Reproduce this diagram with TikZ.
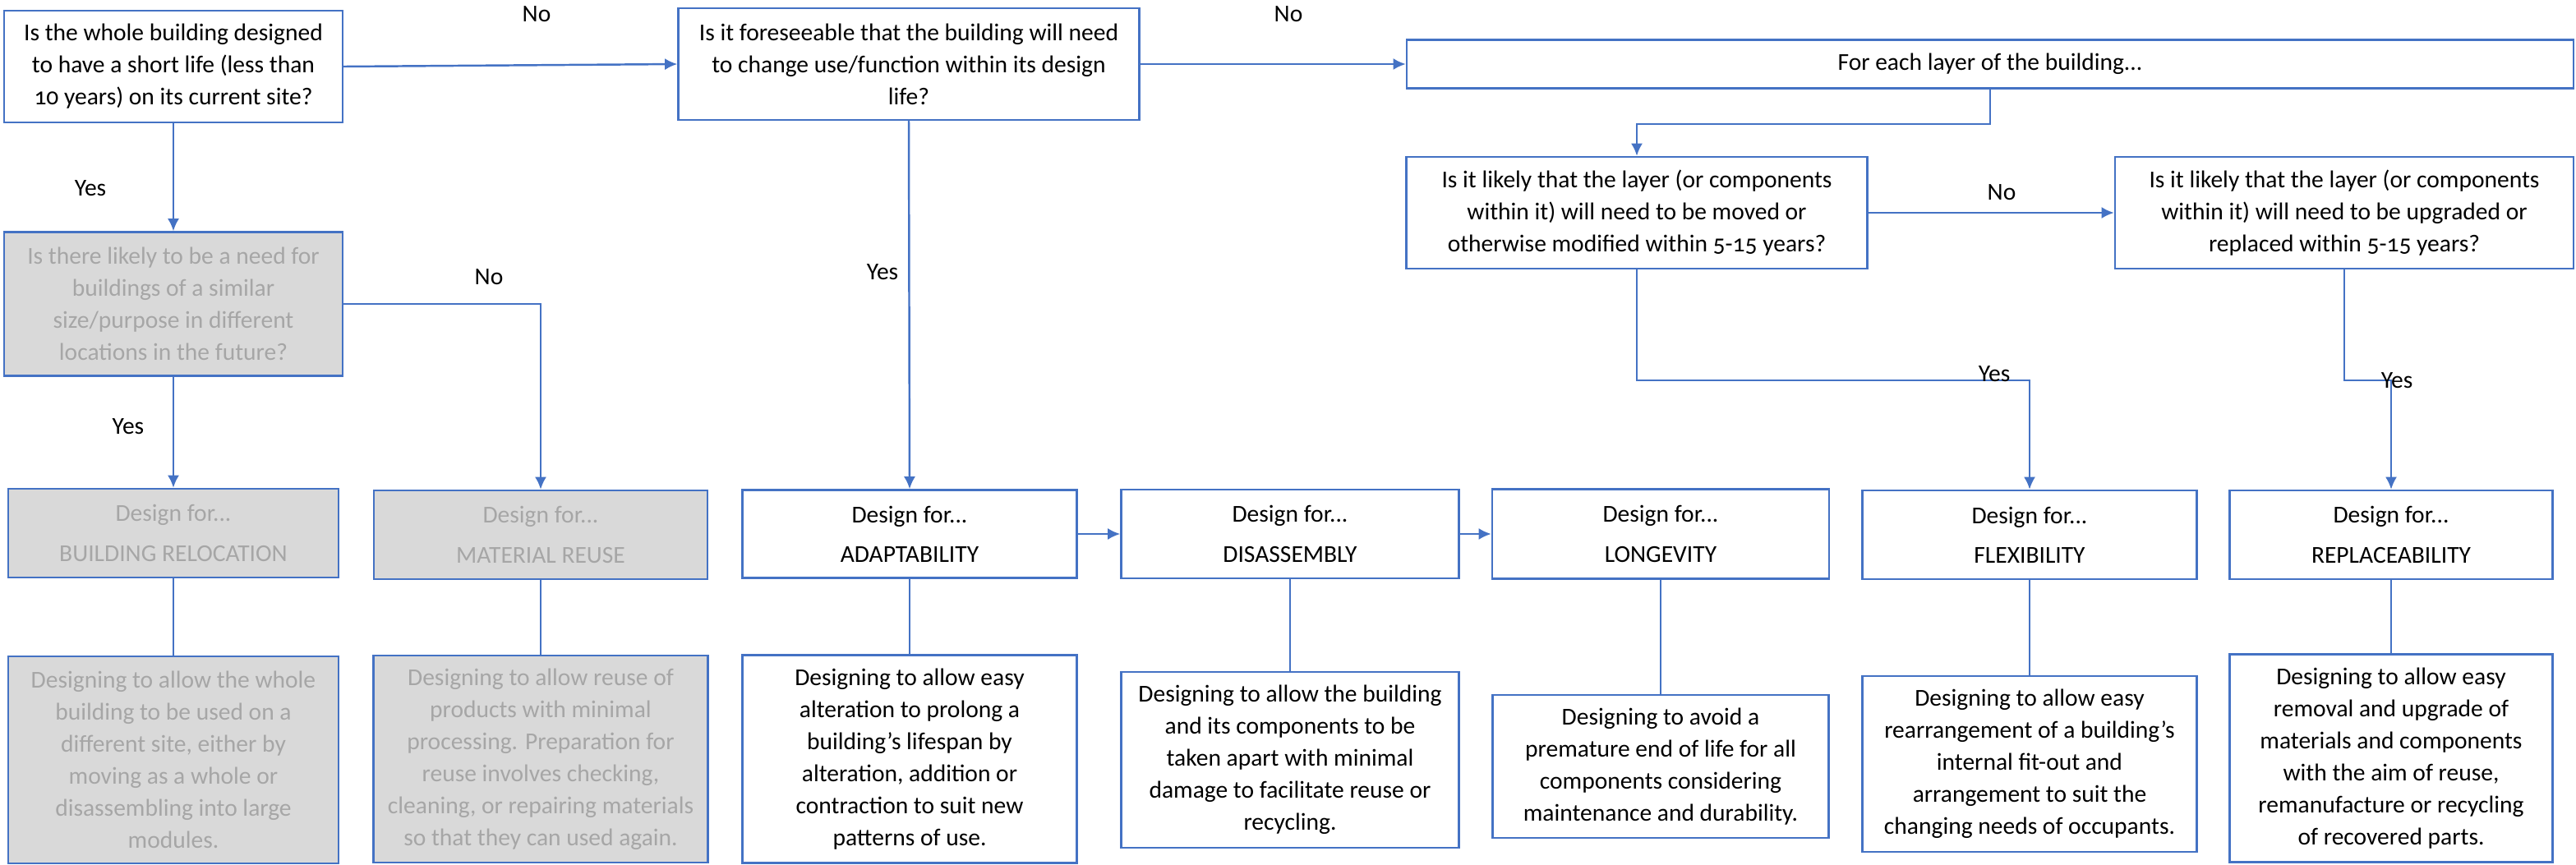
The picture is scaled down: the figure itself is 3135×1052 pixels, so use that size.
\documentclass[tikz,border=0pt]{standalone}
\usepackage{fontspec}
\setmainfont{Carlito}[Numbers=OldStyle]
\usetikzlibrary{arrows.meta}
\definecolor{lineblue}{HTML}{4472C4}
\definecolor{boxgrey}{HTML}{D9D9D9}
\definecolor{textgrey}{HTML}{A6A6A6}
\tikzset{
  >={Latex[length=4.3pt,width=4pt]},
  qbox/.style={draw=lineblue,line width=0.7pt,fill=white,align=center,
    inner sep=1pt,font=\fontsize{8.4}{11.1}\selectfont},
  greybox/.style={qbox,fill=boxgrey,text=textgrey},
  flow/.style={draw=lineblue,line width=0.7pt,->},
  link/.style={draw=lineblue,line width=0.35pt},
  lbl/.style={font=\fontsize{8.4}{11.1}\selectfont}
}

\begin{document}
\begin{tikzpicture}[x=0.1mm,y=-0.1mm]
  \useasboundingbox (0,0) rectangle (3135,1052);
  % questions
  \node[qbox,minimum width=41.2mm,minimum height=13.6mm] (q1) at (211,81)
    {Is the whole building designed\\to have a short life (less than\\10 years) on its current site?};
  \node[greybox,minimum width=41.2mm,minimum height=17.5mm] (q3) at (211,370)
    {Is there likely to be a need for\\buildings of a similar\\size/purpose in different\\locations in the future?};
  \node[qbox,minimum width=56.1mm,minimum height=13.6mm] (q2) at (1106,78)
    {Is it foreseeable that the building will need\\to change use/function within its design\\life?};
  \node[qbox,minimum width=142mm,minimum height=5.9mm] (layer) at (2422,78)
    {For each layer of the building...};
  \node[qbox,minimum width=56.1mm,minimum height=13.6mm] (l1) at (1992,259)
    {Is it likely that the layer (or components\\within it) will need to be moved or\\otherwise modified within 5-15 years?};
  \node[qbox,minimum width=55.8mm,minimum height=13.6mm] (l2) at (2853,259)
    {Is it likely that the layer (or components\\within it) will need to be upgraded or\\replaced within 5-15 years?};
  % design for...
  \node[greybox,minimum width=40.2mm,minimum height=10.8mm] (br) at (211,649)
    {Design for...\\[2.6pt]BUILDING RELOCATION};
  \node[greybox,minimum width=40.6mm,minimum height=10.8mm] (mr) at (658,651)
    {Design for...\\[2.6pt]MATERIAL REUSE};
  \node[qbox,minimum width=40.7mm,minimum height=10.7mm] (ad) at (1107,650)
    {Design for...\\[2.6pt]ADAPTABILITY};
  \node[qbox,minimum width=41.1mm,minimum height=10.8mm] (di) at (1570,650)
    {Design for...\\[2.6pt]DISASSEMBLY};
  \node[qbox,minimum width=41mm,minimum height=10.9mm] (lo) at (2021,650)
    {Design for...\\[2.6pt]LONGEVITY};
  \node[qbox,minimum width=40.7mm,minimum height=10.8mm] (fl) at (2470,651)
    {Design for...\\[2.6pt]FLEXIBILITY};
  \node[qbox,minimum width=39.3mm,minimum height=10.8mm] (re) at (2910,651)
    {Design for...\\[2.6pt]REPLACEABILITY};
  % descriptions
  \node[greybox,minimum width=40.2mm,minimum height=25.2mm] (brd) at (211,925)
    {Designing to allow the whole\\building to be used on a\\different site, either by\\moving as a whole or\\disassembling into large\\modules.};
  \node[greybox,minimum width=40.7mm,minimum height=25.2mm] (mrd) at (658,924)
    {Designing to allow reuse of\\products with minimal\\processing. Preparation for\\reuse involves checking,\\cleaning, or repairing materials\\so that they can used again.};
  \node[qbox,minimum width=40.7mm,minimum height=25.3mm] (add) at (1107,924)
    {Designing to allow easy\\alteration to prolong a\\building’s lifespan by\\alteration, addition or\\contraction to suit new\\patterns of use.};
  \node[qbox,minimum width=41.1mm,minimum height=21.4mm] (did) at (1570,925)
    {Designing to allow the building\\and its components to be\\taken apart with minimal\\damage to facilitate reuse or\\recycling.};
  \node[qbox,minimum width=40.9mm,minimum height=17.4mm] (lod) at (2021,933)
    {Designing to avoid a\\premature end of life for all\\components considering\\maintenance and durability.};
  \node[qbox,minimum width=40.7mm,minimum height=21.4mm] (fld) at (2470,930)
    {Designing to allow easy\\rearrangement of a building’s\\internal fit-out and\\arrangement to suit the\\changing needs of occupants.};
  \node[qbox,minimum width=39.3mm,minimum height=25.3mm] (red) at (2910,923)
    {Designing to allow easy\\removal and upgrade of\\materials and components\\with the aim of reuse,\\remanufacture or recycling\\of recovered parts.};

  % flow
  \draw[flow] (q1.east) -- (q2.west);
  \node[lbl] (no1) at (653,17) {No};
  \draw[flow] (q2.east) -- (layer.west);
  \node[lbl] (no2) at (1568,17) {No};
  \draw[flow] (q1.south) -- (q3.north);
  \node[lbl] (yes1) at (110,229) {Yes};
  \draw[flow] (q3.south) -- (br.north);
  \node[lbl] (yes2) at (156,519) {Yes};
  \draw[flow] (q3.east) -| (mr.north);
  \node[lbl] (no3) at (595,337) {No};
  \draw[flow] (q2.south) -- (ad.north);
  \node[lbl] (yes3) at (1074,331) {Yes};
  \draw[flow] (ad.east) -- (di.west);
  \draw[flow] (di.east) -- (lo.west);
  \draw[flow] (layer.south) -- ++(0,42) -| (l1.north);
  \draw[flow] (l1.east) -- (l2.west);
  \node[lbl] (no4) at (2436,234) {No};
  \draw[flow] (l1.south) -- ++(0,135) -| (fl.north);
  \node[lbl] (yes4) at (2427,455) {Yes};
  \draw[flow] (l2.south) -- ++(0,135) -| (re.north);
  \node[lbl] (yes5) at (2917,463) {Yes};

  % links to descriptions
  \foreach \a/\b in {br/brd,mr/mrd,ad/add,di/did,lo/lod,fl/fld,re/red}
    \draw[link] (\a.south) -- (\b.north);
\end{tikzpicture}
\end{document}
